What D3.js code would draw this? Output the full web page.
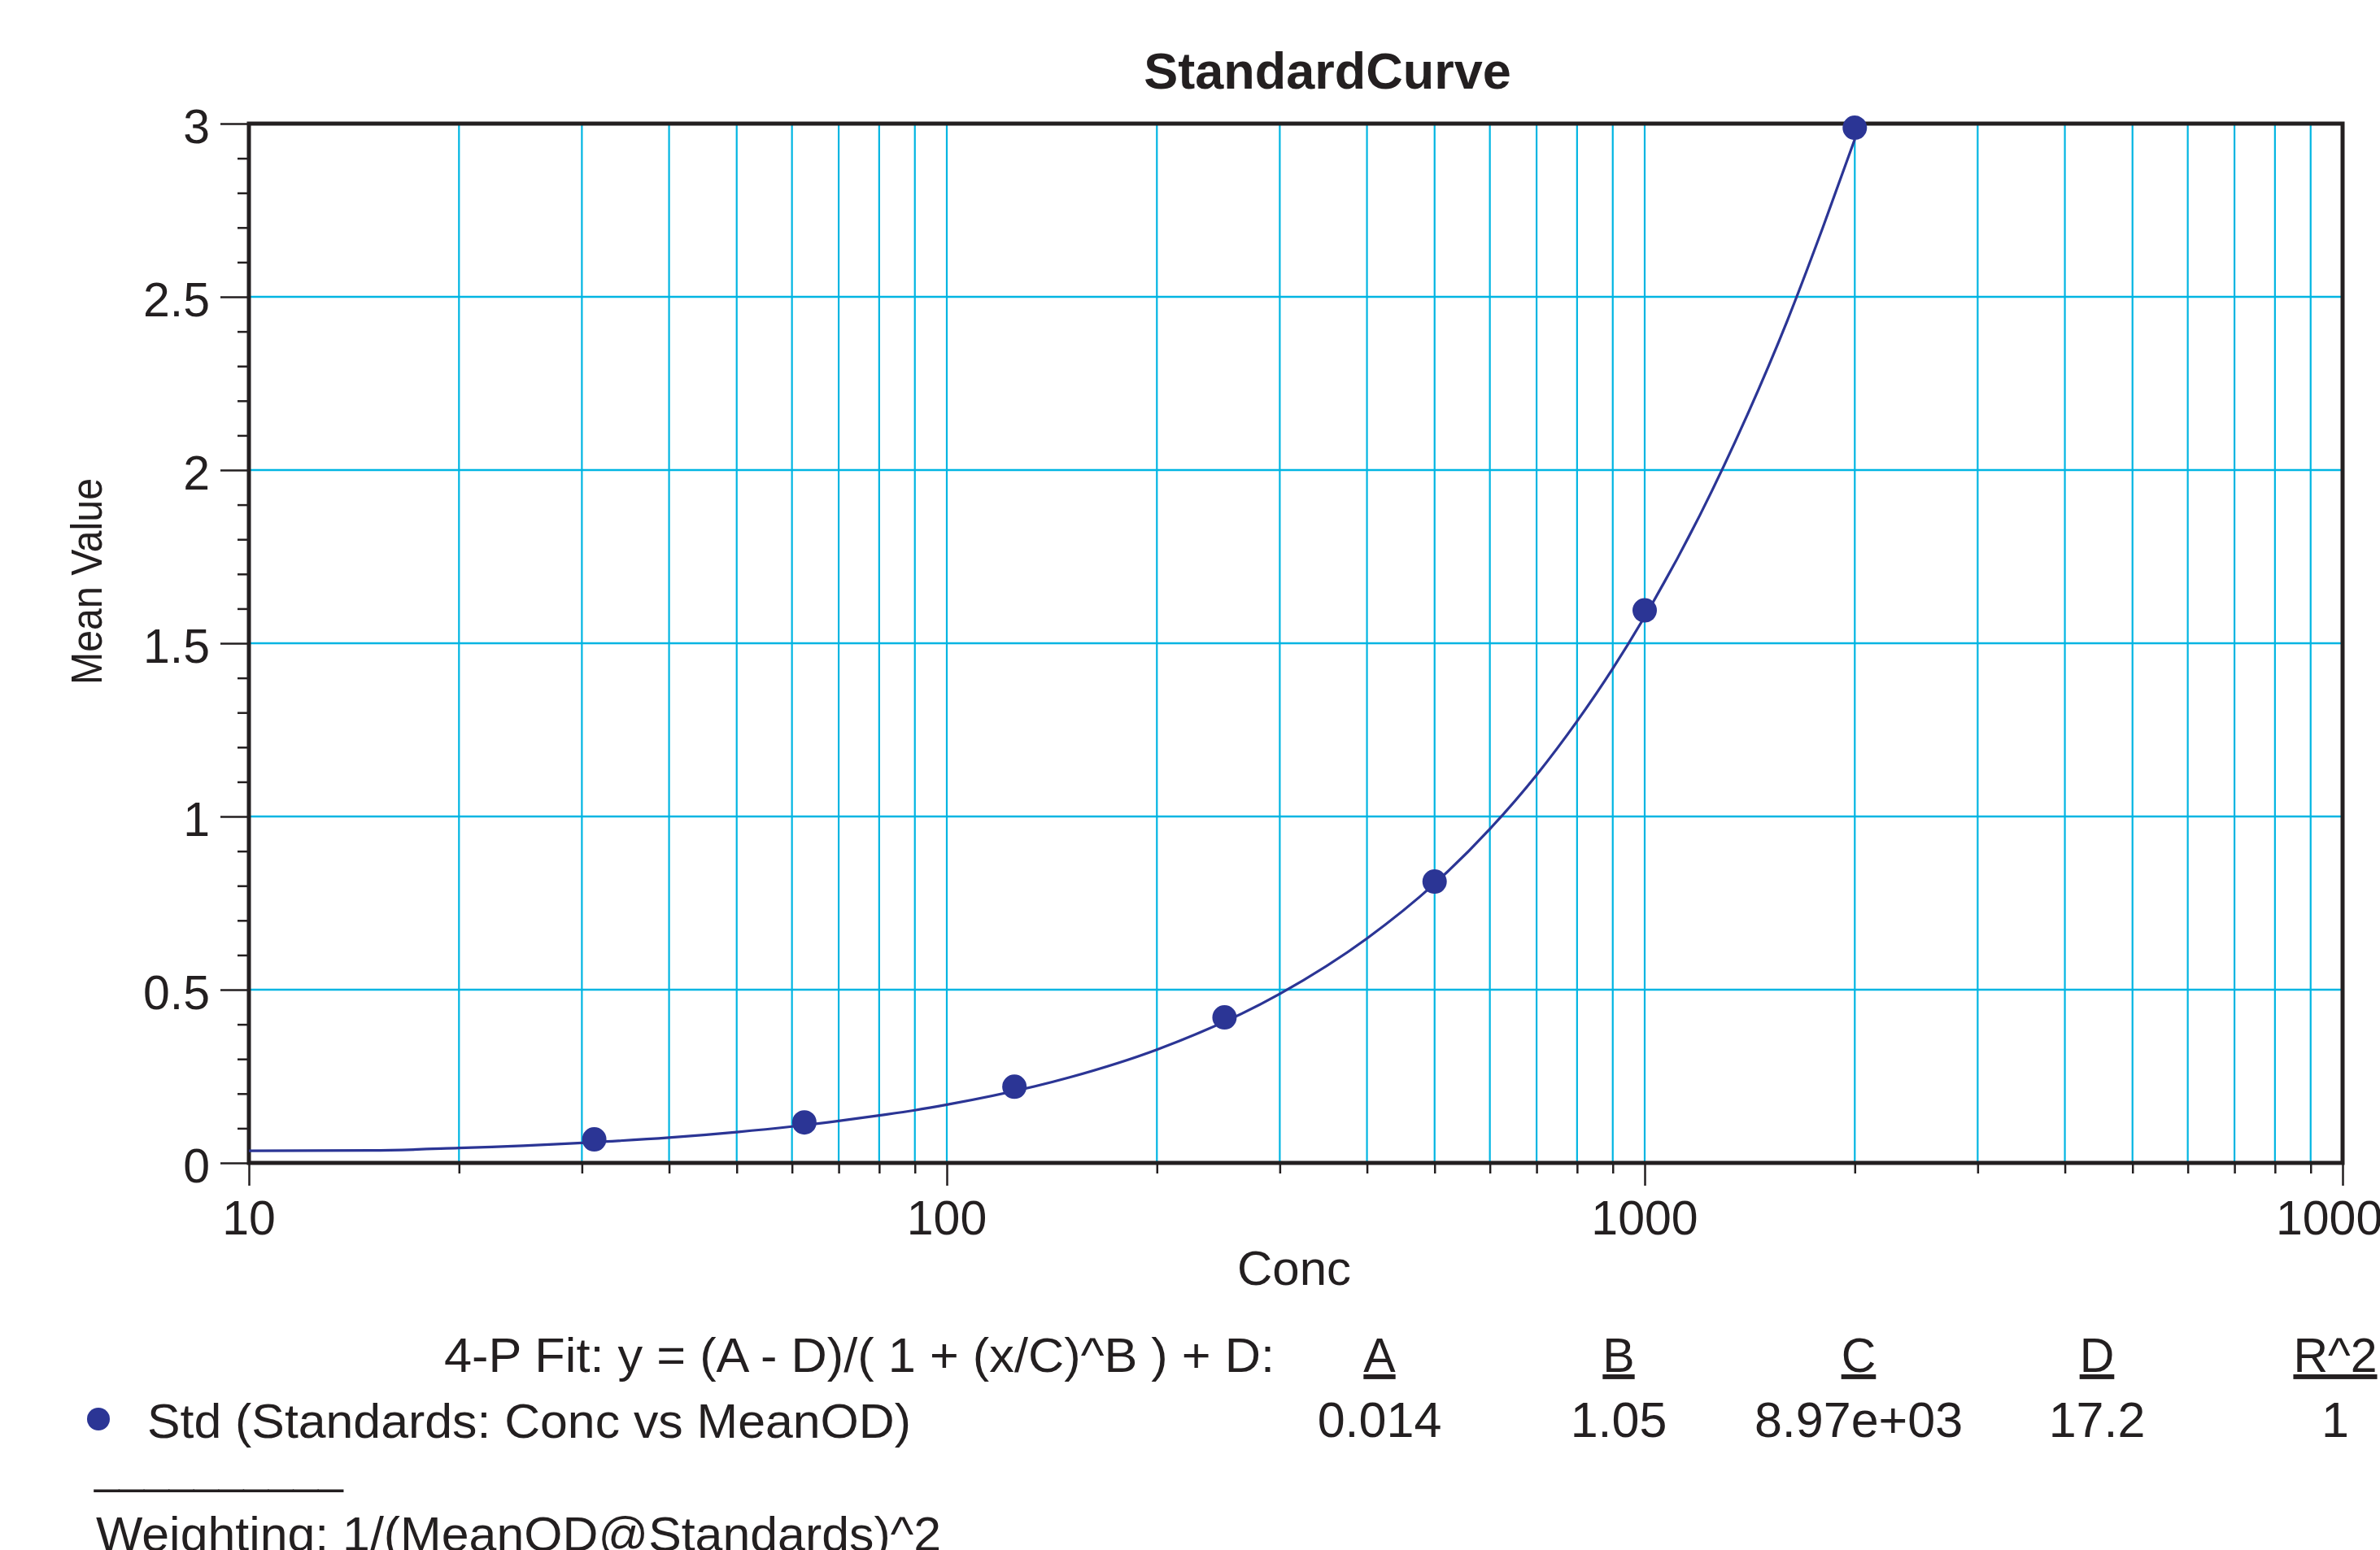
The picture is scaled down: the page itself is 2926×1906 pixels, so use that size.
<!DOCTYPE html>
<html>
<head>
<meta charset="utf-8">
<script src="https://cdn.jsdelivr.net/npm/d3@7"></script>
<style>
  html, body { margin: 0; padding: 0; background: #fff; }
  svg { display: block; font-family: "Liberation Sans", Arial, Helvetica, sans-serif; }
</style>
</head>
<body>
<div id="chart"></div>
<script>
// standards (points)
const stdConc = [31.25, 62.5, 125, 250, 500, 1000, 2000]
const stdMean = [0.068, 0.117, 0.22, 0.42, 0.812, 1.595, 2.988]

// fitted curve
const curveConc = [10, 15, 20, 30, 40, 50, 60, 70, 80, 90, 100, 150, 200, 300, 400, 500, 600, 700, 800, 900, 1000, 1200, 1400, 1600, 1800, 2000]
const curveMean = [0.035, 0.036, 0.043, 0.058, 0.073, 0.089, 0.105, 0.121, 0.137, 0.152, 0.168, 0.247, 0.327, 0.488, 0.648, 0.806, 0.964, 1.12, 1.275, 1.427, 1.577, 1.87, 2.155, 2.43, 2.7, 2.955]

const yTicks = [0, 0.5, 1, 1.5, 2, 2.5, 3]
const xLabelTicks = [10, 100, 1000, 10000]

const fitHeaders = ["A", "B", "C", "D", "R^2"]
const fitValues = ["0.014", "1.05", "8.97e+03", "17.2", "1"]

const GRID = "#00b5e2"
const NAVY = "#2b3595"
const INK = "#231f20"

const width = 2926, height = 1906
const margin = {left: 306, right: 46, top: 152, bottom: 476}

const svg = d3.select("#chart").append("svg").attr("width", width).attr("height", height)

let x = d3.scaleLog().domain([10, 10000]).range([margin.left, width - margin.right])
let y = d3.scaleLinear().domain([0, 3]).range([height - margin.bottom, margin.top])

let x0 = x.range()[0], x1 = x.range()[1], y0 = y.range()[0], y1 = y.range()[1]

// grid
let xt = x.ticks().filter(d => d > 10 && d < 10000)
svg.append("g").selectAll("line").data(xt).join("line")
    .attr("x1", d => x(d)).attr("x2", d => x(d)).attr("y1", y0).attr("y2", y1)
    .attr("stroke", GRID).attr("stroke-width", 2.2)
svg.append("g").selectAll("line").data(yTicks.filter(d => d > 0 && d < 3)).join("line")
    .attr("x1", x0).attr("x2", x1).attr("y1", d => y(d)).attr("y2", d => y(d))
    .attr("stroke", GRID).attr("stroke-width", 2.5)

// x axis ticks (below)
let xAxis = svg.append("g").attr("transform", `translate(0,${y0})`)
    .call(d3.axisBottom(x).tickValues(x.ticks()).tickSize(13).tickFormat(""))
xAxis.select(".domain").remove()
xAxis.selectAll(".tick line").attr("stroke", INK).attr("stroke-width", 2.5)
    .attr("y2", d => xLabelTicks.includes(d) ? 28 : 13)
svg.append("g").selectAll("text").data(xLabelTicks).join("text")
    .attr("x", d => x(d)).attr("y", y0 + 88)
    .attr("text-anchor", "middle").attr("font-size", 59).attr("fill", INK)
    .text(d => d)

// y axis ticks (left)
let yMinor = d3.range(0, 31).map(d => d / 10)
let yAxis = svg.append("g").attr("transform", `translate(${x0},0)`)
    .call(d3.axisLeft(y).tickValues(yMinor).tickSize(14).tickFormat(""))
yAxis.select(".domain").remove()
yAxis.selectAll(".tick line").attr("stroke", INK).attr("stroke-width", 2.5)
    .attr("x2", d => yTicks.some(t => Math.abs(t - d) < 1e-9) ? -35 : -14)
svg.append("g").selectAll("text").data(yTicks).join("text")
    .attr("x", 258).attr("y", d => y(d) + 24)
    .attr("text-anchor", "end").attr("font-size", 59).attr("fill", INK)
    .text(d => d)

// frame
svg.append("rect").attr("x", x0).attr("y", y1).attr("width", x1 - x0).attr("height", y0 - y1)
    .attr("fill", "none").attr("stroke", INK).attr("stroke-width", 5)

// curve
let line = d3.line().x(d => x(d[0])).y(d => y(d[1])).curve(d3.curveMonotoneX)
svg.append("path").datum(curveConc.map((c, i) => [c, curveMean[i]]))
    .attr("d", line).attr("fill", "none").attr("stroke", NAVY).attr("stroke-width", 3.2)

// points
svg.append("g").selectAll("circle").data(stdConc.map((c, i) => [c, stdMean[i]])).join("circle")
    .attr("cx", d => x(d[0])).attr("cy", d => y(d[1])).attr("r", 15).attr("fill", NAVY)

// titles
svg.append("text").attr("x", 1632).attr("y", 109).attr("text-anchor", "middle")
    .attr("font-size", 63).attr("font-weight", "bold").attr("fill", INK).text("StandardCurve")
svg.append("text").attr("x", 1591).attr("y", 1580).attr("text-anchor", "middle")
    .attr("font-size", 60).attr("fill", INK).text("Conc")
svg.append("text").attr("transform", "translate(125,842) rotate(-90)")
    .attr("textLength", 254).attr("lengthAdjust", "spacingAndGlyphs")
    .attr("font-size", 53).attr("fill", INK).text("Mean Value")

// fit table
let colX = [1696, 1990, 2285, 2578, 2871]
svg.append("text").attr("x", 546).attr("y", 1687)
    .attr("textLength", 1021).attr("lengthAdjust", "spacingAndGlyphs")
    .attr("font-size", 59).attr("fill", INK).text("4-P Fit: y = (A - D)/( 1 + (x/C)^B ) + D:")
svg.append("g").selectAll("text").data(fitHeaders).join("text")
    .attr("x", (d, i) => colX[i]).attr("y", 1687).attr("text-anchor", "middle")
    .attr("font-size", 59).attr("fill", INK).attr("text-decoration", "underline").text(d => d)
svg.append("g").selectAll("text").data(fitValues).join("text")
    .attr("x", (d, i) => colX[i]).attr("y", 1767).attr("text-anchor", "middle")
    .attr("font-size", 61).attr("fill", INK).text(d => d)

svg.append("circle").attr("cx", 121).attr("cy", 1745).attr("r", 14).attr("fill", NAVY)
svg.append("text").attr("x", 181).attr("y", 1768)
    .attr("textLength", 939).attr("lengthAdjust", "spacingAndGlyphs")
    .attr("font-size", 59).attr("fill", INK).text("Std (Standards: Conc vs MeanOD)")
svg.append("text").attr("x", 116).attr("y", 1824).attr("font-size", 55).attr("fill", INK)
    .text("__________")
svg.append("text").attr("x", 118).attr("y", 1907)
    .attr("textLength", 1039).attr("lengthAdjust", "spacingAndGlyphs")
    .attr("font-size", 59).attr("fill", INK).text("Weighting: 1/(MeanOD@Standards)^2")
</script>
</body>
</html>
